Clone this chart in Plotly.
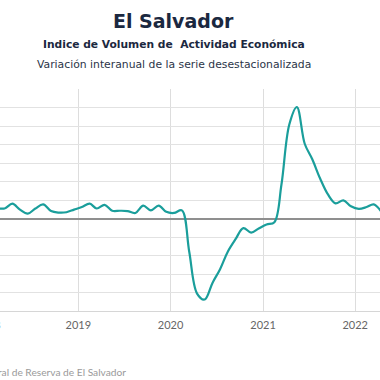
import plotly.graph_objects as go

# Monthly data (plotted mid-month), year-on-year % change, seasonally adjusted IVAE
months = [f"{y}-{m:02d}-15" for y in range(2018, 2023) for m in range(1, 13)][:52]
values = [
    3.3, 2.8, 2.7, 4.0, 2.4, 1.3, 2.7, 3.8, 2.0, 1.6, 1.7, 2.4,        # 2018
    3.1, 4.0, 2.7, 3.7, 2.1, 2.1, 2.0, 1.5, 3.5, 2.2, 3.5, 1.8,        # 2019
    1.5, 2.2, -9.0, -20.3, -21.9, -17.4, -13.7, -8.9, -5.5, -2.6, -3.8, -2.7,  # 2020
    -1.6, -1.0, 9.2, 25.4, 30.1, 20.2, 16.0, 10.8, 6.5, 4.1, 4.9, 3.3,  # 2021
    2.6, 3.1, 3.8, 1.8,                                                  # 2022
]
tick_dates = ["2019-01-01", "2020-01-01", "2021-01-01", "2022-01-01"]
tick_labels = ["2019", "2020", "2021", "2022"]

title = "El Salvador"
subtitle = "Indice de Volumen de  Actividad Económica"
subtitle2 = "Variación interanual de la serie desestacionalizada"
source = "Fuente: Banco Central de Reserva de El Salvador"

W, H = 380, 380
mt, mb = 89, 69
ph = H - mt - mb
FONT = "DejaVu Sans"
TFONT = "Lato"

fig = go.Figure()
fig.add_trace(go.Scatter(
    x=months, y=values, mode="lines",
    line=dict(color="#1a9e9b", width=2.2, shape="spline", smoothing=1),
    hoverinfo="skip", showlegend=False,
))

fig.update_layout(
    width=W, height=H,
    margin=dict(l=0, r=0, t=mt, b=mb),
    paper_bgcolor="white", plot_bgcolor="white",
    font=dict(family=TFONT, color="#666666"),
    xaxis=dict(
        range=["2018-02-25", "2022-04-09"],
        tickvals=tick_dates, ticktext=tick_labels,
        tickfont=dict(size=11, color="#666666", family=TFONT),
        ticklabelstandoff=4,
        showgrid=True, gridcolor="#dddddd", gridwidth=1,
        showline=True, linecolor="#d6d6d6", linewidth=1,
        ticks="", zeroline=False,
    ),
    yaxis=dict(
        range=[-25, 35], dtick=5,
        showticklabels=False,
        showgrid=True, gridcolor="#e2e2e2", gridwidth=1,
        zeroline=True, zerolinecolor="#8f8f8f", zerolinewidth=1.5,
        showline=False, ticks="",
    ),
)

cx = 173.5 / W

def py(pix):
    return (H - mb - pix) / ph

annotations = [
    dict(text=f"<b>{title}</b>", x=cx, y=py(21), font=dict(size=19, color="#1b2840", family=FONT)),
    dict(text=f"<b>{subtitle}</b>", x=cx, y=py(44), font=dict(size=10.7, color="#1b2840", family=FONT)),
    dict(text=subtitle2, x=cx, y=py(64.5), font=dict(size=10.8, color="#2b3548", family=FONT)),
    dict(text="2018", x=2.5 / W, y=py(324), xanchor="right", font=dict(size=11, color="#666666", family=TFONT)),
    dict(text=source, x=128 / W, y=py(372), xanchor="right", font=dict(size=10.2, color="#9a9a9a", family=TFONT)),
]
for a in annotations:
    a.setdefault("xanchor", "center")
    fig.add_annotation(xref="paper", yref="paper", showarrow=False, yanchor="middle", **a)

fig.write_html(
    "out.html",
    config={"displayModeBar": False},
    post_script="document.body.style.margin='0';document.body.style.overflow='hidden';",
)
